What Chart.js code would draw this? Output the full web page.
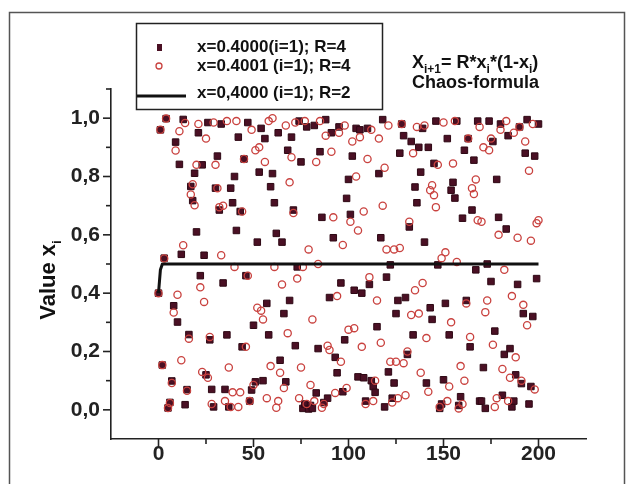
<!DOCTYPE html>
<html><head><meta charset="utf-8">
<script src="https://cdn.jsdelivr.net/npm/chart.js@4.4.0/dist/chart.umd.min.js"></script>
<style>html,body{margin:0;padding:0;background:#fff}canvas{display:block}</style>
</head><body>
<canvas id="c" width="636" height="484"></canvas>
<script>
// iteration index i (0 = starting value)
const iterations = Array.from({length: 201}, (_, i) => i);

// x(i=1)=0.4000, R=4  (filled squares)
const seriesSquares = [
  0.4, 0.96, 0.1536, 0.52, 0.9984, 0.0064, 0.0254, 0.099, 0.3569, 0.918,
  0.301, 0.8416, 0.5332, 0.9956, 0.0176, 0.0693, 0.2581, 0.7659, 0.7173, 0.8112,
  0.61, 0.95, 0.46, 0.84, 0.53, 0.12, 0.985, 0.24, 0.07, 0.01,
  0.76, 0.87, 0.685, 0.98, 0.435, 0.07, 0.257, 0.01, 0.76, 0.71,
  0.80, 0.615, 0.935, 0.68, 0.216, 0.86, 0.46, 0.985, 0.03, 0.068,
  0.29, 0.096, 0.575, 0.815, 0.965, 0.10, 0.93, 0.365, 0.257, 0.765,
  0.81, 0.71, 0.605, 0.95, 0.17, 0.575, 0.33, 0.096, 0.89, 0.375,
  0.935, 0.685, 0.22, 0.49, 0.99, 0.85, 0.005, 0.02, 0.97, 0.003,
  0.015, 0.005, 0.975, 0.058, 0.21, 0.885, 0.66, 0.025, 0.995, 0.04,
  0.385, 0.95, 0.59, 0.18, 0.127, 0.97, 0.435, 0.062, 0.24, 0.725,
  0.79, 0.67, 0.87, 0.41, 0.965, 0.113, 0.96, 0.40, 0.11, 0.03,
  0.965, 0.43, 0.10, 0.08, 0.06, 0.285, 0.81, 0.59, 0.995, 0.01,
  0.455, 0.13, 0.497, 0.04, 0.092, 0.33, 0.375, 0.88, 0.98, 0.94,
  0.385, 0.19, 0.627, 0.92, 0.257, 0.764, 0.71, 0.90, 0.815, 0.965,
  0.575, 0.092, 0.90, 0.35, 0.31, 0.845, 0.99, 0.497, 0.005, 0.02,
  0.103, 0.365, 0.93, 0.257, 0.753, 0.78, 0.726, 0.99, 0.015, 0.045,
  0.657, 0.89, 0.375, 0.93, 0.216, 0.685, 0.856, 0.48, 0.99, 0.03,
  0.03, 0.145, 0.005, 0.5, 0.99, 0.44, 0.92, 0.27, 0.79, 0.66,
  0.98, 0.05, 0.19, 0.62, 0.94, 0.21, 0.01, 0.03, 0.12, 0.43,
  0.97, 0.09, 0.33, 0.88, 0.995, 0.02, 0.08, 0.32, 0.87, 0.45, 0.98
];

// x(i=1)=0.4001, R=4  (open circles)
const seriesCircles = [
  0.4001, 0.9601, 0.1533, 0.5192, 0.9985, 0.0059, 0.0235, 0.0918, 0.3335, 0.8891,
  0.3946, 0.9555, 0.17, 0.5644, 0.9834, 0.0653, 0.2441, 0.7381, 0.7732, 0.7014,
  0.84, 0.98, 0.42, 0.13, 0.37, 0.93, 0.11, 0.25, 0.02, 0.985,
  0.84, 0.76, 0.695, 0.53, 0.70, 0.03, 0.99, 0.145, 0.01, 0.06,
  0.49, 0.99, 0.01, 0.06, 0.68, 0.86, 0.216, 0.46, 0.03, 0.96,
  0.085, 0.89, 0.35, 0.90, 0.34, 0.31, 0.85, 0.04, 0.99, 0.15,
  1.0, 0.49, 0.007, 0.03, 0.127, 0.43, 0.075, 0.975, 0.263, 0.78,
  0.866, 0.675, 0.985, 0.45, 0.04, 0.145, 0.49, 0.99, 0.02, 0.55,
  0.085, 0.31, 0.03, 0.85, 0.50, 0.99, 0.007, 0.02, 0.94, 0.22,
  0.205, 0.885, 0.66, 0.058, 0.39, 0.95, 0.165, 0.565, 0.975, 0.075,
  0.275, 0.645, 0.92, 0.28, 0.80, 0.615, 0.935, 0.216, 0.68, 0.02,
  0.86, 0.455, 0.96, 0.03, 0.10, 0.375, 0.93, 0.23, 0.70, 0.83,
  0.55, 0.975, 0.165, 0.025, 0.55, 0.165, 0.04, 0.555, 0.98, 0.16,
  0.05, 0.20, 0.645, 0.325, 0.88, 0.41, 0.97, 0.33, 0.127, 0.435,
  0.975, 0.246, 0.062, 0.753, 0.77, 0.736, 0.695, 0.84, 0.01, 0.52,
  0.985, 0.54, 0.03, 0.08, 0.30, 0.845, 0.99, 0.507, 0.005, 0.15,
  0.02, 0.10, 0.365, 0.93, 0.25, 0.76, 0.74, 0.79, 0.65, 0.97,
  0.645, 0.9, 0.335, 0.375, 0.89, 0.93, 0.223, 0.01, 0.04, 0.6,
  0.96, 0.14, 0.48, 0.99, 0.03, 0.11, 0.39, 0.95, 0.18, 0.59,
  0.97, 0.1, 0.36, 0.92, 0.29, 0.82, 0.58, 0.98, 0.07, 0.64, 0.65
];

// x(i=1)=0.4000, R=2  (solid line)
const lineIterations = [0, 1, 2, 3, 200];
const seriesLine = [0.4, 0.48, 0.4992, 0.5, 0.5];

const xTickValues = [0, 50, 100, 150, 200];
const yTickValues = [0, 0.2, 0.4, 0.6, 0.8, 1.0];
const legendLabels = ['x=0.4000(i=1); R=4', 'x=0.4001 (i=1); R=4', 'x=0,4000 (i=1); R=2'];

const FONT = '"Liberation Sans", Arial, Helvetica, sans-serif';
const SQ_FILL = '#4a1024', SQ_EDGE = '#2e0814', CI_EDGE = '#c9423f';

function drawSub(ctx, parts, x, y) {
  let cx = x;
  for (const [t, sub] of parts) {
    ctx.font = sub ? 'bold 12px ' + FONT : 'bold 18px ' + FONT;
    ctx.fillText(t, cx, sub ? y + 5 : y);
    cx += ctx.measureText(t).width;
  }
}

const deco = {
  id: 'deco',
  afterDraw(chart) {
    const {ctx, scales: {x, y}} = chart;
    ctx.save();
    // outer frame
    ctx.strokeStyle = '#555'; ctx.lineWidth = 1.5;
    ctx.beginPath();
    ctx.moveTo(9.5, 484); ctx.lineTo(9.5, 12.5); ctx.lineTo(624.5, 12.5); ctx.lineTo(624.5, 484);
    ctx.stroke();

    // tick marks (major + minor) through the scales
    ctx.strokeStyle = '#222'; ctx.lineWidth = 1.6;
    const ax = chart.chartArea.bottom;
    for (let v = 0; v <= 200; v += 25) {
      const px = x.getPixelForValue(v);
      const len = v % 50 === 0 ? 8 : 5;
      ctx.beginPath(); ctx.moveTo(px, ax); ctx.lineTo(px, ax + len); ctx.stroke();
    }
    const ay = chart.chartArea.left;
    for (let k = 0; k <= 11; k++) {
      const v = k / 10;
      const py = y.getPixelForValue(v);
      const len = k % 2 === 0 ? 8 : 5;
      ctx.beginPath(); ctx.moveTo(ay, py); ctx.lineTo(ay - len, py); ctx.stroke();
    }

    // legend box
    ctx.fillStyle = '#fff';
    ctx.fillRect(137, 24, 245, 85);
    ctx.strokeStyle = '#222'; ctx.lineWidth = 1.5;
    ctx.strokeRect(136.5, 23.5, 246, 86);
    ctx.fillStyle = '#111';
    ctx.font = 'bold 17px ' + FONT;
    ctx.textBaseline = 'middle'; ctx.textAlign = 'left';
    const rows = [47, 66, 93];
    rows.forEach((ry, i) => ctx.fillText(legendLabels[i], 197, ry));
    ctx.fillStyle = SQ_FILL; ctx.fillRect(157, 44, 5, 7);
    ctx.strokeStyle = CI_EDGE; ctx.lineWidth = 1.3;
    ctx.beginPath(); ctx.arc(159, 66, 3, 0, Math.PI * 2); ctx.stroke();
    ctx.strokeStyle = '#111'; ctx.lineWidth = 3;
    ctx.beginPath(); ctx.moveTo(137, 96); ctx.lineTo(186, 96); ctx.stroke();

    // formula
    ctx.fillStyle = '#111'; ctx.textBaseline = 'alphabetic';
    drawSub(ctx, [['X', false], ['i+1', true], ['= R*x', false], ['i', true], ['*(1-x', false], ['i', true], [')', false]], 412, 68);
    ctx.font = 'bold 18px ' + FONT;
    ctx.fillText('Chaos-formula', 412, 88);

    // y axis title
    ctx.save();
    ctx.translate(55, 280); ctx.rotate(-Math.PI / 2);
    ctx.font = 'bold 22px ' + FONT;
    const w1 = ctx.measureText('Value x').width;
    ctx.font = 'bold 13px ' + FONT;
    const w2 = ctx.measureText('i').width;
    const sx = -(w1 + w2) / 2;
    ctx.font = 'bold 22px ' + FONT;
    ctx.fillText('Value x', sx, 0);
    ctx.font = 'bold 13px ' + FONT;
    ctx.fillText('i', sx + w1, 6);
    ctx.restore();
    ctx.restore();
  }
};

new Chart(document.getElementById('c'), {
  type: 'scatter',
  data: {
    datasets: [
      {
        label: legendLabels[2], type: 'line',
        data: lineIterations.map((i, k) => ({x: i, y: seriesLine[k]})),
        borderColor: '#111', borderWidth: 3, pointRadius: 0, fill: false, tension: 0
      },
      {
        label: legendLabels[1],
        data: iterations.map((i) => ({x: i, y: seriesCircles[i]})),
        pointStyle: 'circle', pointRadius: 3.6, borderWidth: 1.3,
        borderColor: CI_EDGE, backgroundColor: 'rgba(255,255,255,0)'
      },
      {
        label: legendLabels[0],
        data: iterations.map((i) => ({x: i, y: seriesSquares[i]})),
        pointStyle: 'rect', pointRadius: 4.6, borderWidth: 1,
        borderColor: SQ_EDGE, backgroundColor: SQ_FILL
      }
    ]
  },
  options: {
    responsive: false, animation: false, devicePixelRatio: 1,
    layout: {padding: {left: 0, right: 50, top: 89, bottom: 0}},
    plugins: {legend: {display: false}, tooltip: {enabled: false}, title: {display: false}},
    scales: {
      x: {
        type: 'linear', min: -25, max: 225,
        afterBuildTicks: (s) => { s.ticks = xTickValues.map(v => ({value: v})); },
        afterFit: (s) => { s.height = 45; },
        grid: {display: false, drawTicks: false},
        border: {display: true, color: '#222', width: 1.6},
        ticks: {font: {family: FONT, weight: 'bold', size: 21}, color: '#222', padding: 3, maxRotation: 0}
      },
      y: {
        type: 'linear', min: -0.1, max: 1.1,
        afterBuildTicks: (s) => { s.ticks = yTickValues.map(v => ({value: v})); },
        afterFit: (s) => { s.width = 111; },
        grid: {display: false, drawTicks: false},
        border: {display: true, color: '#222', width: 1.6},
        ticks: {
          font: {family: FONT, weight: 'bold', size: 21}, color: '#222', padding: 11,
          callback: (v) => v.toFixed(1).replace('.', ',')
        }
      }
    }
  },
  plugins: [deco]
});
</script>
</body></html>
